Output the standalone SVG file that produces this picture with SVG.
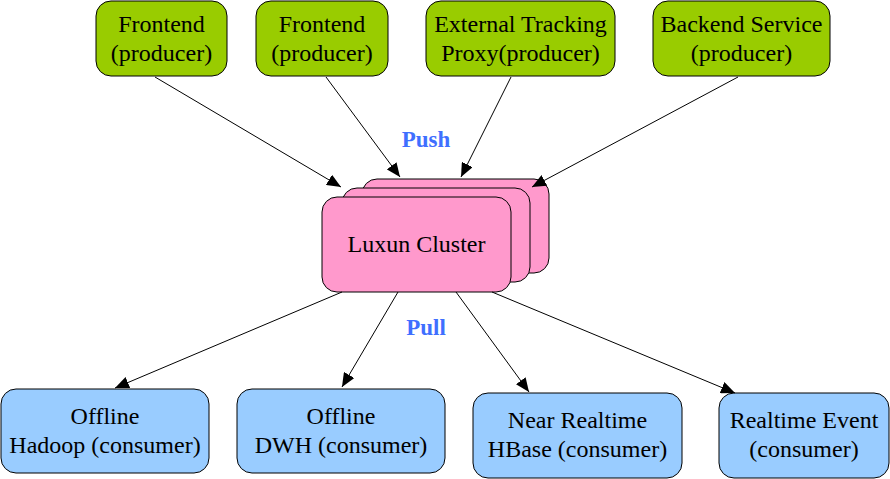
<svg xmlns="http://www.w3.org/2000/svg" width="890" height="479" viewBox="0 0 890 479">
<style>
.prod{fill:#99cc00;stroke:#000;stroke-width:1}
.clu{fill:#ff99cc;stroke:#000;stroke-width:1}
.cons{fill:#99ccff;stroke:#000;stroke-width:1}
text{font-size:24px;fill:#000;text-anchor:middle}
.lbl{font-weight:bold;fill:#3f6fff;font-size:23px}
.edge{stroke:#000;stroke-width:1;fill:none;marker-end:url(#ah)}
</style>
<defs>
<marker id="ah" markerUnits="userSpaceOnUse" markerWidth="14" markerHeight="12" viewBox="0 0 14 12" refX="14" refY="6" orient="auto">
<path d="M0,0 L14,6 L0,12 z" fill="#000"/>
</marker>
</defs>
<rect width="890" height="479" fill="#fff"/>
<g font-family="'Liberation Serif', 'DejaVu Serif', serif">
<g id="n-frontend1"><rect class="prod" x="96" y="1" width="131" height="75" rx="15"/><text x="161.5" y="32">Frontend</text><text x="161.5" y="61">(producer)</text></g>
<g id="n-frontend2"><rect class="prod" x="256" y="1" width="132" height="75" rx="15"/><text x="322" y="32">Frontend</text><text x="322" y="61">(producer)</text></g>
<g id="n-external"><rect class="prod" x="426" y="1" width="189" height="75" rx="15"/><text x="520.5" y="32">External Tracking</text><text x="520.5" y="61">Proxy(producer)</text></g>
<g id="n-backend"><rect class="prod" x="653" y="1" width="177" height="75" rx="15"/><text x="741.5" y="32">Backend Service</text><text x="741.5" y="61">(producer)</text></g>
<g id="n-luxun">
<rect class="clu" x="362" y="179" width="187" height="94" rx="15"/>
<rect class="clu" x="342" y="188" width="188" height="94" rx="15"/>
<rect class="clu" x="322" y="197" width="189" height="95" rx="15"/>
<text x="416.5" y="252">Luxun Cluster</text>
</g>
<g id="n-hadoop"><rect class="cons" x="1" y="389" width="208" height="84" rx="15"/><text x="105" y="424">Offline</text><text x="105" y="453">Hadoop (consumer)</text></g>
<g id="n-dwh"><rect class="cons" x="237" y="389" width="208" height="84" rx="15"/><text x="341" y="424">Offline</text><text x="341" y="453">DWH (consumer)</text></g>
<g id="n-hbase"><rect class="cons" x="473" y="393" width="209" height="85" rx="15"/><text x="577.5" y="428">Near Realtime</text><text x="577.5" y="457">HBase (consumer)</text></g>
<g id="n-realtime"><rect class="cons" x="719" y="393" width="170" height="85" rx="15"/><text x="804" y="428">Realtime Event</text><text x="804" y="457">(consumer)</text></g>
<g id="edges">
<line class="edge" x1="155" y1="77" x2="341" y2="187"/>
<line class="edge" x1="326" y1="77" x2="400" y2="177"/>
<line class="edge" x1="511" y1="77" x2="461" y2="177"/>
<line class="edge" x1="738" y1="77" x2="532" y2="187"/>
<line class="edge" x1="342" y1="292" x2="115" y2="388"/>
<line class="edge" x1="398" y1="292" x2="342" y2="387"/>
<line class="edge" x1="456" y1="292" x2="529" y2="392"/>
<line class="edge" x1="492" y1="292" x2="735" y2="393"/>
</g>
<text class="lbl" x="426" y="147">Push</text>
<text class="lbl" x="426" y="335">Pull</text>
</g>
</svg>
